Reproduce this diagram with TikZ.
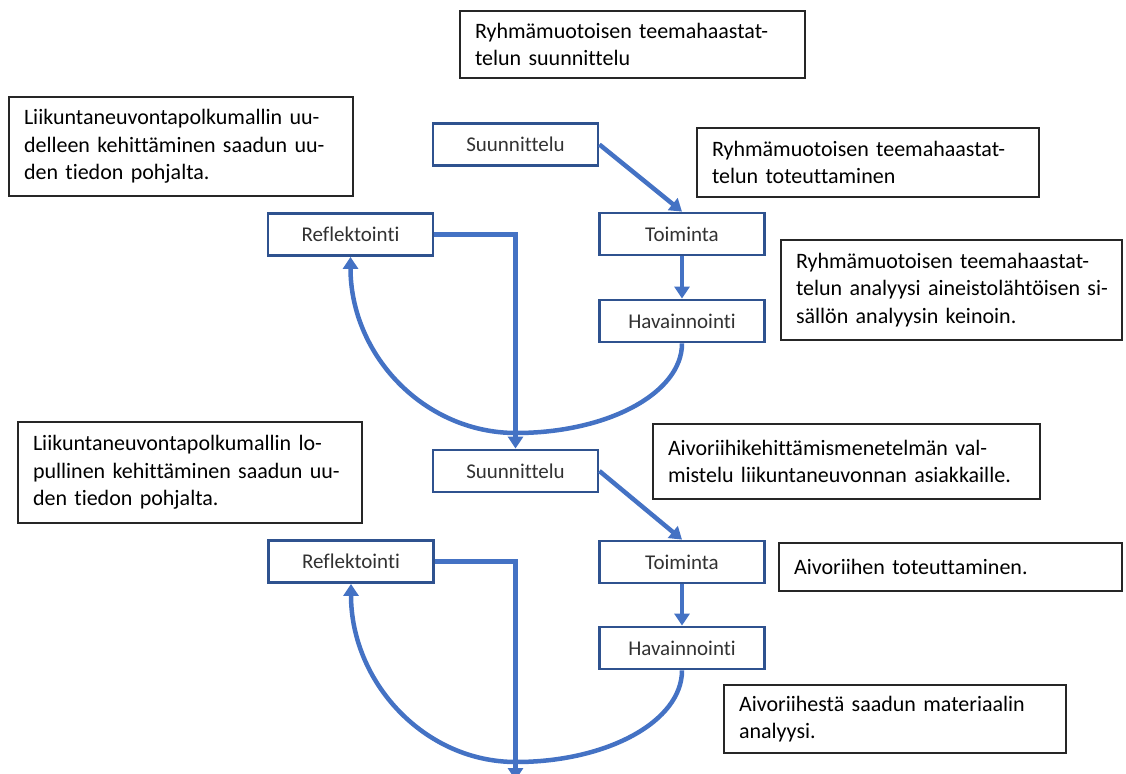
\documentclass[tikz,border=0pt]{standalone}
\usepackage{fontspec}
\setmainfont{Carlito}[Ligatures={NoCommon}]
\usetikzlibrary{arrows.meta}
\definecolor{boxblue}{RGB}{47,82,143}
\definecolor{arrowblue}{RGB}{68,114,196}
\definecolor{labelgray}{RGB}{50,50,50}
\newcommand{\nline}[1]{\mbox{#1}}
\begin{document}
\begin{tikzpicture}[x=1pt,y=-1pt,
  stage/.style={draw=boxblue, line width=2.8pt, fill=white, minimum width=165pt, minimum height=42pt, inner sep=0pt, font=\fontsize{21}{25}\selectfont, text=labelgray},
  note/.style={draw=black!85, line width=1.4pt, fill=white, align=left, inner xsep=15pt, inner ysep=0pt, font=\fontsize{22}{27.5}\selectfont},
  flow/.style={draw=arrowblue, line width=4.5pt, -{Triangle[width=15pt,length=12pt]}}]
\useasboundingbox (0,0) rectangle (1126,773);
% stage boxes
\node[stage] (S1) at (515.5,144.5) {Suunnittelu};
\node[stage] (T1) at (682,234) {Toiminta};
\node[stage] (H1) at (682,321) {Havainnointi};
\node[stage] (R1) at (350.5,234.5) {Reflektointi};
\node[stage] (S2) at (515.5,471) {Suunnittelu};
\node[stage] (T2) at (682,562) {Toiminta};
\node[stage] (H2) at (682,648) {Havainnointi};
\node[stage] (R2) at (351,561.5) {Reflektointi};
% notes
\node[note, text width=315pt, minimum height=67pt] (nA) at (632.5,44.5) {\nline{Ryhmämuotoisen teemahaastat-}\\\nline{telun suunnittelu}};
\node[note, text width=314pt, minimum height=99pt] (nB) at (181,146.5) {\nline{Liikuntaneuvontapolkumallin uu-}\\\nline{delleen kehittäminen saadun uu-}\\\nline{den tiedon pohjalta.}};
\node[note, text width=312pt, minimum height=69pt] (nC) at (868,162.5) {\nline{Ryhmämuotoisen teemahaastat-}\\\nline{telun toteuttaminen}};
\node[note, text width=311pt, minimum height=100pt] (nD) at (951.5,290) {\nline{Ryhmämuotoisen teemahaastat-}\\\nline{telun analyysi aineistolähtöisen si-}\\\nline{sällön analyysin keinoin.}};
\node[note, text width=314pt, minimum height=101pt] (nE) at (190,472.5) {\nline{Liikuntaneuvontapolkumallin lo-}\\\nline{pullinen kehittäminen saadun uu-}\\\nline{den tiedon pohjalta.}};
\node[note, text width=357pt, minimum height=75pt] (nF) at (846.5,461.5) {\nline{Aivoriihikehittämismenetelmän val-}\\\nline{mistelu liikuntaneuvonnan asiakkaille.}};
\node[note, text width=313pt, minimum height=48pt] (nG) at (950.5,567) {\nline{Aivoriihen toteuttaminen.}};
\node[note, text width=312pt, minimum height=68pt] (nH) at (895,719) {\nline{Aivoriihestä saadun materiaalin}\\\nline{analyysi.}};
% connectors, cycle 1
\coordinate (b1) at (516,433);
\draw[flow] (S1.east) -- (T1.north);
\draw[flow] (T1.south) -- (H1.north);
\draw[flow] (H1.south) .. controls +(0,50) and +(91,0) .. (b1) .. controls +(-92,0) and +(0,98) .. (R1.south);
\draw[flow] (R1.east) -| (S2.north);
% connectors, cycle 2
\coordinate (b2) at (516,762);
\coordinate (end2) at (515.5,780);
\draw[flow] (S2.east) -- (T2.north);
\draw[flow] (T2.south) -- (H2.north);
\draw[flow] (H2.south) .. controls +(0,51) and +(91,0) .. (b2) .. controls +(-92,0) and +(0,98) .. (R2.south);
\draw[flow] (R2.east) -| (end2);
\end{tikzpicture}
\end{document}
